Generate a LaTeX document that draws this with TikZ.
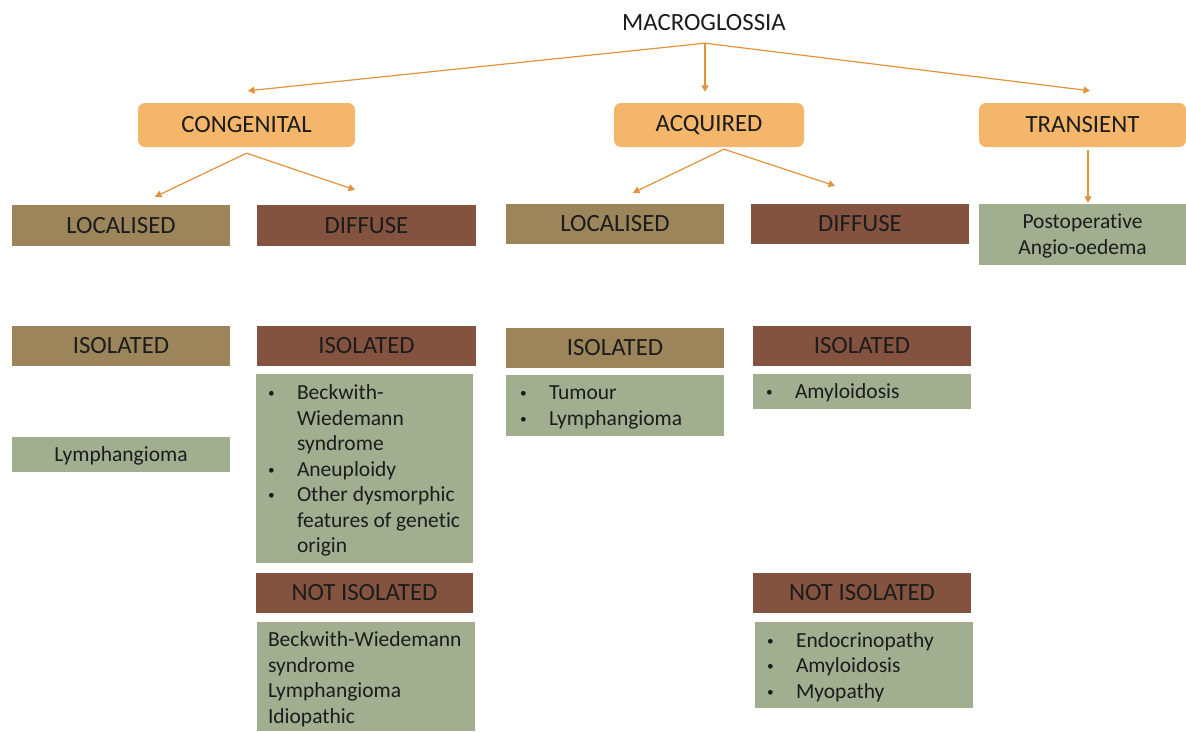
\documentclass[tikz,border=0pt]{standalone}
\usepackage{fontspec}
\setmainfont{Carlito}[Ligatures={NoCommon,NoContextual}]
\usetikzlibrary{arrows.meta,calc}
\definecolor{orfill}{HTML}{F4B66A}
\definecolor{orline}{HTML}{E3923C}
\definecolor{locc}{HTML}{9C855A}
\definecolor{difc}{HTML}{84533F}
\definecolor{grnc}{HTML}{A1AE90}
\definecolor{txtc}{HTML}{1C1C1C}
\newcommand{\hdrfont}{\fontsize{24.8}{30}\selectfont}
\newcommand{\bodyfont}{\fontsize{21.5}{25.5}\selectfont}
\newcommand{\bl}{\makebox[29pt][l]{\raisebox{2pt}{\scalebox{0.62}{\textbullet}}}}
\newcommand{\hg}{\hspace*{29pt}}
\begin{document}
\begin{tikzpicture}[x=1pt,y=-1pt,
  cat/.style={rectangle,rounded corners=7pt,fill=orfill,draw=none,text=txtc,font=\hdrfont,inner sep=0pt},
  locbox/.style={rectangle,fill=locc,draw=none,text=txtc,font=\hdrfont,inner sep=0pt},
  difbox/.style={rectangle,fill=difc,draw=none,text=txtc,font=\hdrfont,inner sep=0pt},
  grnbox/.style={rectangle,fill=grnc,draw=none,text=txtc,font=\bodyfont,inner sep=0pt,align=center},
  listtxt/.style={anchor=west,align=left,inner sep=0pt,text=txtc,font=\bodyfont},
  arr/.style={draw=orline,line width=1.2pt,-{Triangle[width=7pt,length=6.5pt]}}
]
\useasboundingbox (0,0) rectangle (1186,731);
\fill[white] (0,0) rectangle (1186,731);

% top
\node[text=txtc,font=\hdrfont,inner sep=0pt,text height=16pt,text depth=0pt] (mac) at (704,22) {MACROGLOSSIA};

% categories
\node[cat,minimum width=217pt,minimum height=44pt] (cong) at (246.5,125) {CONGENITAL};
\node[cat,minimum width=190pt,minimum height=44pt] (acq) at (709,125) {ACQUIRED};
\node[cat,minimum width=207pt,minimum height=44pt] (tra) at (1082.5,125) {TRANSIENT};

% row 2
\node[locbox,minimum width=218pt,minimum height=41pt] (cl) at (121,225.5) {LOCALISED};
\node[difbox,minimum width=219pt,minimum height=41pt] (cd) at (366.5,225.5) {DIFFUSE};
\node[locbox,minimum width=218pt,minimum height=40pt] (al) at (615,224) {LOCALISED};
\node[difbox,minimum width=218pt,minimum height=40pt] (ad) at (860,224) {DIFFUSE};
\node[grnbox,minimum width=207pt,minimum height=61pt] (post) at (1082.5,234.5) {};
\node[align=center,inner sep=0pt,text=txtc,font=\bodyfont] (postt) at ($(post.center)+(0,1.5)$) {Postoperative\\Angio-oedema};

% row 3
\node[locbox,minimum width=218pt,minimum height=40pt] (cli) at (121,346) {ISOLATED};
\node[difbox,minimum width=219pt,minimum height=40pt] (cdi) at (366.5,346) {ISOLATED};
\node[locbox,minimum width=218pt,minimum height=40pt] (ali) at (615,348) {ISOLATED};
\node[difbox,minimum width=218pt,minimum height=40pt] (adi) at (862,346) {ISOLATED};

\node[grnbox,minimum width=218pt,minimum height=35pt] (clly) at (121,454.5) {};
\node[inner sep=0pt,text=txtc,font=\bodyfont] (cllyt) at ($(clly.center)+(0,1.5)$) {Lymphangioma};

\node[grnbox,minimum width=217pt,minimum height=189pt] (cdl) at (364.5,468.5) {};
\node[listtxt] (cdlt) at ($(cdl.west)+(12,2)$) {\bl Beckwith-\\\hg Wiedemann\\\hg syndrome\\\bl Aneuploidy\\\bl Other dysmorphic\\\hg features of genetic\\\hg origin};

\node[grnbox,minimum width=218pt,minimum height=61pt] (all) at (615,405.5) {};
\node[listtxt] (allt) at ($(all.west)+(14,2)$) {\bl Tumour\\\bl Lymphangioma};

\node[grnbox,minimum width=218pt,minimum height=35pt] (adl) at (862,391.5) {};
\node[listtxt] (adlt) at ($(adl.west)+(13,1.5)$) {\bl Amyloidosis};

% not isolated
\node[difbox,minimum width=217pt,minimum height=40pt] (cdn) at (364.5,593) {NOT ISOLATED};
\node[difbox,minimum width=218pt,minimum height=40pt] (adn) at (862,593) {NOT ISOLATED};

\node[grnbox,minimum width=218pt,minimum height=109pt] (cdnl) at (366,676.5) {};
\node[listtxt] (cdnlt) at ($(cdnl.west)+(11,3)$) {Beckwith-Wiedemann\\syndrome\\Lymphangioma\\Idiopathic};

\node[grnbox,minimum width=218pt,minimum height=86pt] (adnl) at (864,665) {};
\node[listtxt] (adnlt) at ($(adnl.west)+(12,2)$) {\bl Endocrinopathy\\\bl Amyloidosis\\\bl Myopathy};

% arrows
\draw[arr] ($(mac.south)+(1,13)$) -- ($(cong.north)+(1.5,-12)$);
\draw[arr] ($(mac.south)+(1,13)$) -- ($(acq.north)+(-4,-11)$);
\draw[arr] ($(mac.south)+(1,13)$) -- ($(tra.north)+(7.5,-12)$);

\draw[arr] ($(cong.south)+(0,6)$) -- ($(cl.north)+(34,-8)$);
\draw[arr] ($(cong.south)+(0,6)$) -- ($(cd.north)+(-11.5,-15)$);

\draw[arr] ($(acq.south)+(15,2)$) -- ($(al.north)+(18,-11)$);
\draw[arr] ($(acq.south)+(15,2)$) -- ($(ad.north)+(-25,-18)$);

\draw[arr] ($(tra.south)+(5.5,3)$) -- ($(post.north)+(5.5,-1)$);
\end{tikzpicture}
\end{document}
